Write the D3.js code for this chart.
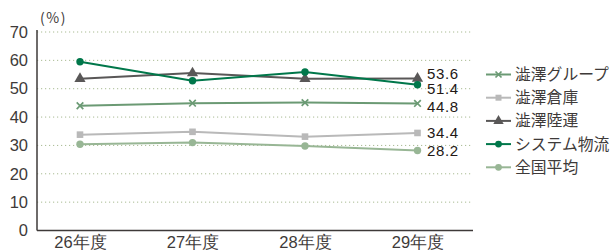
<!DOCTYPE html>
<html>
<head>
<meta charset="utf-8">
<script src="https://cdn.jsdelivr.net/npm/d3@7"></script>
<style>
  body { margin: 0; background: #fff; }
  svg { font-family: "Noto Sans CJK JP", "Noto Sans", sans-serif; }
</style>
</head>
<body>
<svg width="614" height="251"></svg>
<script>
// data
const years = ["26年度", "27年度", "28年度", "29年度"];
const yTicks = [0, 10, 20, 30, 40, 50, 60, 70];
const groupVals = [44.0, 44.9, 45.1, 44.8];
const soukoVals = [33.8, 34.8, 33.1, 34.4];
const rikuunVals = [53.5, 55.5, 53.5, 53.6];
const systemVals = [59.5, 52.8, 55.9, 51.4];
const zenkokuVals = [30.4, 31.0, 29.8, 28.2];

const series = [
  { name: "澁澤グループ", values: groupVals, color: "#6b9a74", symbol: "x", labelDy: 3.5 },
  { name: "澁澤倉庫", values: soukoVals, color: "#b9b9b9", symbol: "square", labelDy: 0 },
  { name: "澁澤陸運", values: rikuunVals, color: "#595757", symbol: "triangle", labelDy: -5 },
  { name: "システム物流", values: systemVals, color: "#00774a", symbol: "circle", labelDy: 4.5 },
  { name: "全国平均", values: zenkokuVals, color: "#98b695", symbol: "circle", labelDy: 0 }
];

const svg = d3.select("svg");
const plotLeft = 37, plotRight = 473, plotTop = 32, plotBottom = 230.5;

const x = d3.scalePoint().domain(years).range([80, 417.5]);
const y = d3.scaleLinear().domain([0, 70]).range([plotBottom, plotTop]);

// dotted grid
svg.append("g")
  .selectAll("line")
  .data(yTicks.filter((d) => d > 0))
  .join("line")
  .attr("x1", plotLeft)
  .attr("x2", plotRight)
  .attr("y1", (d) => y(d))
  .attr("y2", (d) => y(d))
  .attr("stroke", "#a9bb93")
  .attr("stroke-width", 1)
  .attr("stroke-dasharray", "1.2,2.8");

// axes
const yAxis = svg.append("g")
  .attr("transform", `translate(${plotLeft},0)`)
  .call(d3.axisLeft(y).tickValues(yTicks).tickSize(0).tickPadding(9));
yAxis.select(".domain").attr("stroke", "#3e3a39").attr("stroke-width", 1.5).attr("d", `M0,${plotTop - 2}V${plotBottom}`);
yAxis.selectAll("text").attr("font-size", 16.5).attr("fill", "#3e3a39")
  .attr("font-family", "'Liberation Sans', Arial, sans-serif");

const xAxis = svg.append("g")
  .attr("transform", `translate(0,${plotBottom})`)
  .call(d3.axisBottom(x).tickSize(0).tickPadding(6));
xAxis.select(".domain").attr("stroke", "#3e3a39").attr("stroke-width", 1.5).attr("d", `M${plotLeft},0H${plotRight}`);
xAxis.selectAll("text").attr("font-size", 16.5).attr("fill", "#3e3a39");

svg.append("text")
  .attr("x", 40).attr("y", 23)
  .attr("font-size", 14)
  .attr("letter-spacing", 1.5)
  .attr("fill", "#3e3a39")
  .text("(%)");

const line = d3.line().x((d, i) => x(years[i])).y((d) => y(d));

function drawSymbol(g, kind, cx, cy, color, size) {
  if (kind === "x") {
    g.append("path")
      .attr("d", `M${cx - size},${cy - size}L${cx + size},${cy + size}M${cx - size},${cy + size}L${cx + size},${cy - size}`)
      .attr("stroke", color).attr("stroke-width", 1.7).attr("fill", "none");
  } else if (kind === "square") {
    g.append("rect")
      .attr("x", cx - size).attr("y", cy - size)
      .attr("width", size * 2).attr("height", size * 2)
      .attr("fill", color);
  } else if (kind === "triangle") {
    g.append("path")
      .attr("d", d3.symbol().type(d3.symbolTriangle).size(size * size * 3.4)())
      .attr("transform", `translate(${cx},${cy})`)
      .attr("fill", color);
  } else {
    g.append("circle").attr("cx", cx).attr("cy", cy).attr("r", size).attr("fill", color);
  }
}

const markerSize = { x: 3.3, square: 3.3, triangle: 4, circle: 3.7 };

const plot = svg.append("g");
series.forEach((s) => {
  plot.append("path")
    .datum(s.values)
    .attr("d", line)
    .attr("fill", "none")
    .attr("stroke", s.color)
    .attr("stroke-width", 2);
  s.values.forEach((v, i) => {
    drawSymbol(plot, s.symbol, x(years[i]), y(v), s.color, markerSize[s.symbol]);
  });
  // end value label
  const last = s.values[s.values.length - 1];
  svg.append("text")
    .attr("x", 427)
    .attr("y", y(last) + s.labelDy)
    .attr("dy", "0.35em")
    .attr("font-size", 15)
    .attr("letter-spacing", 0.6)
    .attr("font-family", "'Liberation Sans', Arial, sans-serif")
    .attr("fill", "#231815")
    .text(last.toFixed(1));
});

// legend
const legend = svg.append("g");
series.forEach((s, i) => {
  const ly = 74.5 + i * 23.2;
  legend.append("line")
    .attr("x1", 486).attr("x2", 511)
    .attr("y1", ly).attr("y2", ly)
    .attr("stroke", s.color).attr("stroke-width", 2);
  drawSymbol(legend, s.symbol, 498.5, ly, s.color, markerSize[s.symbol] - 0.3);
  legend.append("text")
    .attr("x", 515).attr("y", ly)
    .attr("dy", "0.35em")
    .attr("font-size", 15.8)
    .attr("fill", "#3e3a39")
    .text(s.name);
});
</script>
</body>
</html>
